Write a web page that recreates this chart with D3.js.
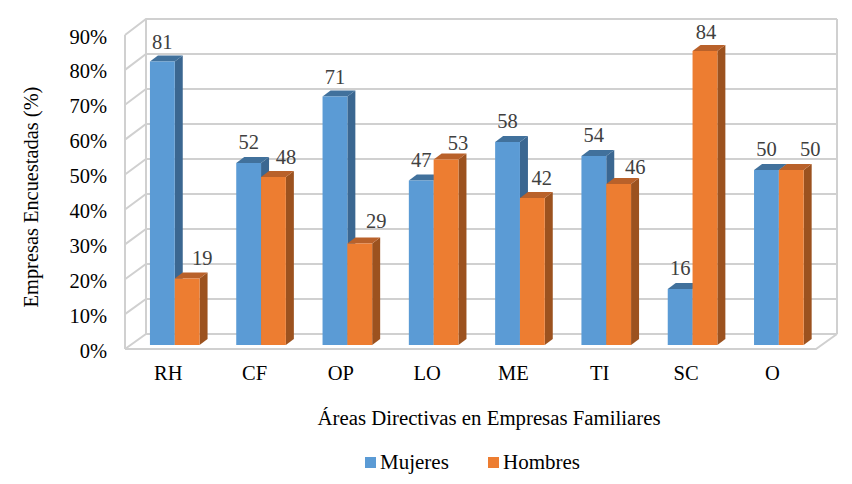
<!DOCTYPE html>
<html>
<head>
<meta charset="utf-8">
<script src="https://cdn.jsdelivr.net/npm/d3@7"></script>
<style>
  body { margin: 0; background: #fff; }
  text { font-family: "Liberation Serif", serif; }
</style>
</head>
<body>
<div id="svg-holder"></div>
<script>
// data
const categories = ["RH", "CF", "OP", "LO", "ME", "TI", "SC", "O"];
const seriesNames = ["Mujeres", "Hombres"];
const mujeres = [81, 52, 71, 47, 58, 54, 16, 50];
const hombres = [19, 48, 29, 53, 42, 46, 84, 50];
const yTicks = [0, 10, 20, 30, 40, 50, 60, 70, 80, 90];

const colors = {
  Mujeres: { front: "#5b9bd5", side: "#3b6791", top: "#41719c" },
  Hombres: { front: "#ed7d31", side: "#9c521f", top: "#b9612a" }
};
const gridColor = "#d0d0d0";

let svg = d3.select("#svg-holder").append("svg")
  .attr("width", 852)
  .attr("height", 484)
  .style("display", "block");

// scales: front wall edge, back wall and bars sit on three different planes
const yFront = d3.scaleLinear().domain([0, 90]).range([349, 35]);
const yBack = d3.scaleLinear().domain([0, 90]).range([334, 19]);
const yBar = d3.scaleLinear().domain([0, 90]).range([345, 30]);
const x0 = d3.scaleBand().domain(categories).range([131.6, 822]).paddingInner(0.425).paddingOuter(0.2125);
const x1 = d3.scaleBand().domain(seriesNames).range([0, x0.bandwidth()]);

const wallL = 146, wallR = 837, frontL = 125, frontR = 816;
const depthX = 8, depthY = 6;

// 3d box walls
const walls = svg.append("g").attr("fill", "none").attr("stroke", gridColor).attr("stroke-width", 2);
yTicks.forEach(t => {
  walls.append("path").attr("d", `M${frontL},${yFront(t)}L${wallL},${yBack(t)}L${wallR},${yBack(t)}`);
});
walls.append("line").attr("x1", frontL).attr("x2", frontL).attr("y1", yFront(0)).attr("y2", yFront(90));
walls.append("line").attr("x1", wallL).attr("x2", wallL).attr("y1", yBack(0)).attr("y2", yBack(90));
walls.append("line").attr("x1", wallR).attr("x2", wallR).attr("y1", yBack(0)).attr("y2", yBack(90));
walls.append("path").attr("d", `M${frontL},${yFront(0)}L${frontR},${yFront(0)}L${wallR},${yBack(0)}`);

// bars
const rows = categories.map((c, i) => ({ c, Mujeres: mujeres[i], Hombres: hombres[i] }));
rows.forEach(row => {
  seriesNames.forEach(s => {
    const g = svg.append("g");
    const l = x0(row.c) + x1(s), r = l + x1.bandwidth();
    const top = yBar(row[s]), base = yBar(0);
    g.append("polygon")
      .attr("points", `${r},${top} ${r + depthX},${top - depthY} ${r + depthX},${base - depthY} ${r},${base}`)
      .attr("fill", colors[s].side);
    g.append("polygon")
      .attr("points", `${l},${top} ${l + depthX},${top - depthY} ${r + depthX},${top - depthY} ${r},${top}`)
      .attr("fill", colors[s].top);
    g.append("rect")
      .attr("x", l).attr("y", top)
      .attr("width", x1.bandwidth()).attr("height", base - top)
      .attr("fill", colors[s].front);
  });
});

// value labels, some were dragged off their bars in the original
const labelShift = {
  "RH-Mujeres": [0, 1.5], "OP-Mujeres": [0, 1],
  "RH-Hombres": [15, 0], "CF-Hombres": [12.5, 1], "OP-Hombres": [16.5, -1.5],
  "LO-Hombres": [12, 4.5], "ME-Hombres": [9.5, 1], "TI-Hombres": [16.5, 4],
  "SC-Hombres": [1, 2], "O-Hombres": [19, 0]
};
rows.forEach(row => {
  seriesNames.forEach(s => {
    const shift = labelShift[row.c + "-" + s] || [0, 0];
    svg.append("text")
      .attr("x", x0(row.c) + x1(s) + x1.bandwidth() / 2 + shift[0])
      .attr("y", yBar(row[s]) - depthY - 15 + shift[1])
      .attr("dy", "0.35em")
      .attr("text-anchor", "middle")
      .attr("font-size", 20.5)
      .attr("fill", "#404040")
      .text(row[s]);
  });
});

// axes
const yAxis = d3.axisLeft(yFront).tickValues(yTicks).tickFormat(d => d + "%").tickSize(0).tickPadding(0);
const yG = svg.append("g").attr("transform", "translate(107,1.5)").call(yAxis);
const xAxis = d3.axisBottom(x0).tickSize(0).tickPadding(0);
const xG = svg.append("g").attr("transform", "translate(-6.5,365)").call(xAxis);
[yG, xG].forEach(g => {
  g.select(".domain").remove();
  g.selectAll("text").attr("font-size", 20.5).attr("fill", "#000").style("font-family", '"Liberation Serif", serif');
});

// axis titles
svg.append("text")
  .attr("x", 489).attr("y", 418).attr("dy", "0.35em")
  .attr("text-anchor", "middle").attr("font-size", 20.8)
  .text("Áreas Directivas en Empresas Familiares");
svg.append("text")
  .attr("transform", "translate(31,197) rotate(-90)")
  .attr("dy", "0.35em")
  .attr("text-anchor", "middle").attr("font-size", 20.4)
  .text("Empresas Encuestadas (%)");

// legend
const legendX = [365, 488];
seriesNames.forEach((s, i) => {
  svg.append("rect").attr("x", legendX[i]).attr("y", 457).attr("width", 11).attr("height", 11).attr("fill", colors[s].front);
  svg.append("text").attr("x", legendX[i] + 15).attr("y", 462).attr("dy", "0.35em").attr("font-size", 21).text(s);
});
</script>
</body>
</html>
